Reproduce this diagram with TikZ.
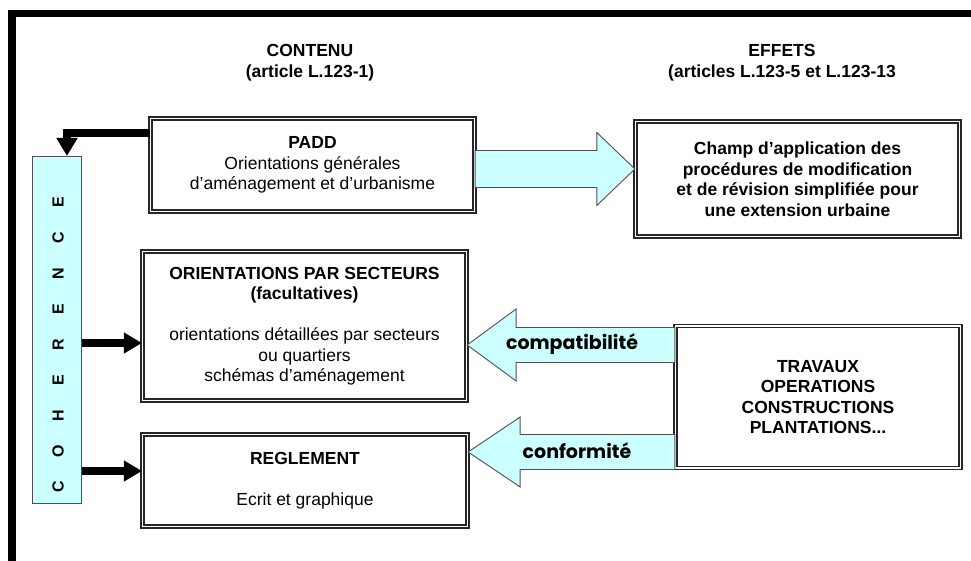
\documentclass[tikz,border=0pt]{standalone}
\usepackage{fontspec}
\setmainfont{Liberation Sans}
\newfontfamily\gothic{Poppins}
\usetikzlibrary{arrows.meta,calc}
\definecolor{lcyan}{HTML}{CCFFFF}
\definecolor{edgegray}{HTML}{505050}
\newcommand\barrowpath[5]{%
  \draw[barrow] let \p1=(#1), \p2=(#2), \n1={sign(\x2-\x1)} in
   (\x1,\y1+#3) -- (\x2-\n1*#5,\y1+#3) -- (\x2-\n1*#5,\y1+#4) -- (\x2,\y2)
   -- (\x2-\n1*#5,\y1-#4) -- (\x2-\n1*#5,\y1-#3) -- (\x1,\y1-#3) -- cycle;}
\begin{document}
\begin{tikzpicture}[x=1pt,y=-1pt,
  txt/.style={font=\fontsize{17.5}{20.5}\selectfont, align=center},
  hdr/.style={font=\bfseries\fontsize{17.5}{21}\selectfont, align=center},
  dbox/.style={txt, draw=black!85, double=white, line width=1.3pt, double distance=1.8pt, inner sep=0pt},
  cohbox/.style={draw=edgegray, fill=lcyan, line width=1.2pt, inner sep=0pt},
  cohletter/.style={rotate=90, font=\bfseries\fontsize{16}{16}\selectfont},
  conn/.style={line width=7.5pt, -{Triangle[length=18pt,width=20pt]}},
  barrow/.style={draw=edgegray, fill=lcyan, line width=0.9pt, line join=miter},
  blabel/.style={font=\gothic\bfseries\fontsize{19}{22}\selectfont}
]
\useasboundingbox (0,0) rectangle (971,561);
\fill[white] (0,0) rectangle (971,561);
% frame
\draw[line width=7.5pt, line join=miter] (12,575) -- (12,13.5) -- (985,13.5);

% headers
\node[hdr] (h1) at (310,62.5) {CONTENU\\(article L.123-1)};
\node[hdr] (h2) at (782,62.5) {EFFETS\\(articles L.123-5 et L.123-13};

% boxes
\node[dbox, minimum width=324, minimum height=93] (padd) at (312.5,165)
  {\textbf{PADD}\\Orientations générales\\d’aménagement et d’urbanisme};
\node[dbox, minimum width=324, minimum height=115, font=\bfseries\fontsize{17.5}{20.5}\selectfont] (champ) at (797.5,179)
  {Champ d'application des\\procédures de modification\\et de révision simplifiée pour\\une extension urbaine};
\node[dbox, minimum width=324, minimum height=149] (orient) at (304.5,326)
  {\textbf{ORIENTATIONS PAR SECTEURS}\\\textbf{(facultatives)}\\[20.5pt]orientations détaillées par secteurs\\ou quartiers\\schémas d'aménagement};
\node[dbox, minimum width=325, minimum height=92] (regl) at (305,480.5)
  {\textbf{REGLEMENT}\\[20.5pt]Ecrit et graphique};
\node[dbox, minimum width=285, minimum height=142, font=\bfseries\fontsize{17.5}{20.5}\selectfont] (trav) at (818,397)
  {TRAVAUX\\OPERATIONS\\CONSTRUCTIONS\\PLANTATIONS...};

% coherence column
\node[cohbox, minimum width=48.8, minimum height=346.8] (coh) at (57,330) {};
\foreach \l [count=\i from 0] in {C,O,H,E,R,E,N,C,E}
  \node[cohletter] (cl\i) at (58,487-35.6*\i) {\l};

% black connectors
\coordinate (p1) at ($(padd.north west)+(0,15)$);
\coordinate (c1) at ($(coh.north)+(10,0)$);
\draw[conn] (p1) -| (c1);
\coordinate (o1) at ($(orient.west)+(0,17)$);
\draw[conn] (coh.east |- o1) -- (o1);
\coordinate (r1) at ($(regl.west)+(0,-9.5)$);
\draw[conn] (coh.east |- r1) -- (r1);

% block arrows
\coordinate (a1s) at ($(padd.east)+(0,4)$);
\coordinate (a1e) at (champ.west |- a1s);
\barrowpath{a1s}{a1e}{18.5pt}{36.5pt}{38pt}
\coordinate (a2s) at ($(trav.west)+(0,-52)$);
\coordinate (a2e) at (orient.east |- a2s);
\barrowpath{a2s}{a2e}{17.5pt}{36pt}{49pt}
\coordinate (a3s) at ($(trav.west)+(0,55)$);
\coordinate (a3e) at (regl.east |- a3s);
\barrowpath{a3s}{a3e}{17.5pt}{35pt}{52pt}

\node[blabel] (lcompat) at (572,344) {compatibilité};
\node[blabel] (lconf) at (577,451) {conformité};
\end{tikzpicture}
\end{document}
